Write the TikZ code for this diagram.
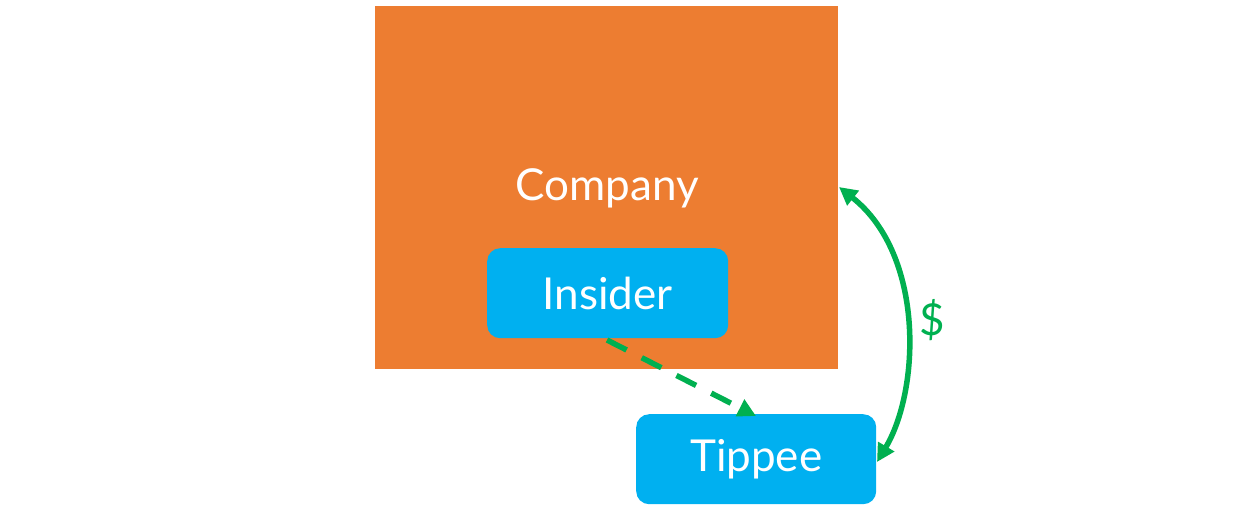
\documentclass[tikz,border=0pt]{standalone}
\usepackage{fontspec}
\setmainfont{Lato}
\usetikzlibrary{arrows.meta}
\definecolor{corange}{HTML}{ED7D31}
\definecolor{cblue}{HTML}{00B0F0}
\definecolor{cgreen}{HTML}{00B050}
\begin{document}
\begin{tikzpicture}[x=1pt,y=-1pt,
  lbl/.style={text=white,font=\fontsize{44}{52}\selectfont},
  bluebox/.style={fill=cblue,rounded corners=13pt,draw=none,minimum width=241pt,minimum height=90pt,anchor=north west},
  garrow/.style={draw=cgreen,line width=5.5pt,-{Triangle[length=18pt,width=18pt]}}]
\useasboundingbox (0,0) rectangle (1244,514);
\node[fill=corange,minimum width=463pt,minimum height=363pt,anchor=north west,inner sep=0] (company) at (375,6) {};
\node[lbl] (ctext) at (607,188) {Company};
\node[bluebox,inner sep=0] (insider) at (487,248) {};
\node[lbl] at (insider.center) {Insider};
\node[bluebox,inner sep=0,minimum width=240pt] (tippee) at (636,414) {};
\node[lbl] at (tippee.center) {Tippee};
\coordinate (a1) at (607,340);
\coordinate (a2) at (756,416);
\draw[garrow,dash pattern=on 22pt off 17pt] (a1) -- (a2);
\coordinate (b1) at (839,187);
\coordinate (b2) at (877,462);
\draw[garrow,{Triangle[length=18pt,width=18pt]}-{Triangle[length=18pt,width=18pt]}] (b1) .. controls (925,255) and (920,390) .. (b2);
\node[text=cgreen,font=\fontsize{44}{48}\selectfont] (dollar) at (932,320) {\$};
\end{tikzpicture}
\end{document}
